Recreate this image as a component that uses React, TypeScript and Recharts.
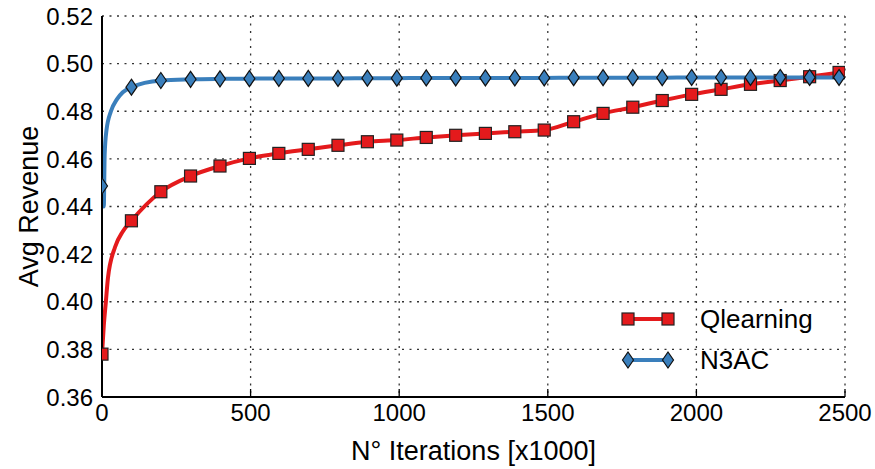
import { LineChart, Line, XAxis, YAxis, CartesianGrid } from 'recharts'

// iterations (x1000) where the markers sit
const markerIters = [
  0, 99, 198, 298, 397, 496, 595, 694, 794, 893, 992, 1091, 1190,
  1290, 1389, 1488, 1587, 1686, 1786, 1885, 1984, 2083, 2182, 2282, 2381, 2480,
]
const qlearningMarkers = [
  0.378, 0.434, 0.4462, 0.4528, 0.457, 0.4602, 0.4623, 0.464, 0.4657, 0.4672, 0.4679, 0.469, 0.4699,
  0.4707, 0.4714, 0.4721, 0.4756, 0.4791, 0.4817, 0.4845, 0.4871, 0.4892, 0.4913, 0.4929, 0.4945, 0.4963,
]
const n3acMarkers = [
  0.4486, 0.4901, 0.4929, 0.4934, 0.4936, 0.4937, 0.4938, 0.4938, 0.4938, 0.4939, 0.4939, 0.494, 0.494,
  0.494, 0.494, 0.494, 0.4941, 0.4941, 0.4941, 0.4941, 0.4942, 0.4942, 0.4942, 0.4942, 0.4942, 0.4942,
]

// extra curve points where the lines bend between markers
const qlearningExtraIters = [6, 13, 20, 44, 70, 2500]
const qlearningExtra = [0.39, 0.4, 0.41, 0.423, 0.4295, 0.4967]
const n3acExtraIters = [6, 9, 15, 30, 50, 70, 2500]
const n3acExtra = [0.44, 0.462, 0.472, 0.48, 0.485, 0.488, 0.4942]

const xTicks = [0, 500, 1000, 1500, 2000, 2500]
const yTicks = [0.36, 0.38, 0.4, 0.42, 0.44, 0.46, 0.48, 0.5, 0.52]

const RED = '#E41A1C'
const BLUE = '#3A7FBC'
const FONT = '"Liberation Sans", Arial, Helvetica, sans-serif'

const merge = (xs: number[], ys: number[], xs2: number[], ys2: number[]) =>
  [...xs.map((x, i) => ({ x, y: ys[i] })), ...xs2.map((x, i) => ({ x, y: ys2[i] }))].sort(
    (a, b) => a.x - b.x,
  )

const qCurve = merge(markerIters, qlearningMarkers, qlearningExtraIters, qlearningExtra)
const nCurve = merge(markerIters, n3acMarkers, n3acExtraIters, n3acExtra)
const qDots = markerIters.map((x, i) => ({ x, y: qlearningMarkers[i] }))
const nDots = markerIters.map((x, i) => ({ x, y: n3acMarkers[i] }))

const Square = (props: any) => {
  const { cx, cy } = props
  if (cx == null || cy == null) return null
  return <rect x={cx - 6} y={cy - 6} width={12} height={12} fill={RED} stroke="#222" strokeWidth={1.2} />
}

const Diamond = (props: any) => {
  const { cx, cy } = props
  if (cx == null || cy == null) return null
  return (
    <path
      d={`M${cx},${cy - 8} L${cx + 5.5},${cy} L${cx},${cy + 8} L${cx - 5.5},${cy} Z`}
      fill={BLUE}
      stroke="#111"
      strokeWidth={1.2}
    />
  )
}

const BottomTick = (props: any) => {
  const { x, y, payload } = props
  const axisY = y - 7
  return (
    <g>
      <line x1={x} x2={x} y1={axisY} y2={axisY - 8} stroke="#000" strokeWidth={1.3} />
      <text x={x} y={y} dy="0.71em" textAnchor="middle" fontSize={24} fontFamily={FONT} fill="#000">
        {payload.value}
      </text>
    </g>
  )
}

const TopTick = (props: any) => {
  const { x, y } = props
  return <line x1={x} x2={x} y1={y} y2={y + 8} stroke="#000" strokeWidth={1.3} />
}

const LeftTick = (props: any) => {
  const { x, y, payload } = props
  return (
    <text x={x} y={y} dy="0.36em" textAnchor="end" fontSize={24} fontFamily={FONT} fill="#000">
      {payload.value.toFixed(2)}
    </text>
  )
}

const legendItems = [
  { name: 'Qlearning', color: RED, marker: 'square' },
  { name: 'N3AC', color: BLUE, marker: 'diamond' },
]

const LegendBox = () => (
  <svg width={220} height={90} style={{ position: 'absolute', left: 620, top: 300 }}>
    {legendItems.map((item, i) => {
      const cy = 19 + i * 41
      return (
        <g key={item.name}>
          <line x1={8} x2={48} y1={cy} y2={cy} stroke={item.color} strokeWidth={4} />
          {item.marker === 'square' ? (
            <>
              <Square cx={8} cy={cy} />
              <Square cx={48} cy={cy} />
            </>
          ) : (
            <>
              <Diamond cx={8} cy={cy} />
              <Diamond cx={48} cy={cy} />
            </>
          )}
          <text x={80} y={cy} dy="0.36em" fontSize={26} fontFamily={FONT} fill="#000">
            {item.name}
          </text>
        </g>
      )
    })}
  </svg>
)

export default function App() {
  return (
    <div style={{ position: 'absolute', left: 0, top: 0, width: 875, height: 469, background: '#fff' }}>
      <LineChart width={875} height={469} margin={{ top: 16, right: 30, bottom: 0, left: 0 }}>
        <CartesianGrid
          stroke="#333"
          strokeDasharray="2 5.5"
          strokeWidth={1.3}
          horizontalValues={yTicks}
          verticalValues={xTicks}
        />
        <XAxis
          dataKey="x"
          type="number"
          domain={[0, 2500]}
          ticks={xTicks}
          allowDataOverflow
          axisLine={{ stroke: '#000', strokeWidth: 2 }}
          tickLine={false}
          tickSize={0}
          tickMargin={7}
          tick={<BottomTick />}
          height={72}
          label={{
            value: 'N° Iterations [x1000]',
            position: 'insideBottom',
            offset: 9,
            fontSize: 27,
            fontFamily: FONT,
            fill: '#000',
          }}
        />
        <XAxis
          xAxisId="top"
          orientation="top"
          dataKey="x"
          type="number"
          domain={[0, 2500]}
          ticks={xTicks}
          axisLine={{ stroke: '#000', strokeWidth: 2 }}
          tickLine={false}
          tickSize={0}
          tickMargin={0}
          tick={<TopTick />}
          height={0}
        />
        <YAxis
          type="number"
          domain={[0.36, 0.52]}
          ticks={yTicks}
          allowDataOverflow
          axisLine={{ stroke: '#000', strokeWidth: 2 }}
          tickLine={false}
          tickSize={0}
          tickMargin={9}
          tick={<LeftTick />}
          width={102}
          label={{
            value: 'Avg Revenue',
            angle: -90,
            position: 'insideLeft',
            offset: 0,
            dx: 28,
            style: { textAnchor: 'middle' },
            fontSize: 27,
            fontFamily: FONT,
            fill: '#000',
          }}
        />
        <YAxis
          yAxisId="right"
          orientation="right"
          type="number"
          domain={[0.36, 0.52]}
          axisLine={{ stroke: '#000', strokeWidth: 2 }}
          tick={false}
          tickLine={false}
          width={0}
        />
        <Line
          data={qCurve}
          dataKey="y"
          type="monotone"
          stroke={RED}
          strokeWidth={4}
          dot={false}
          activeDot={false}
          isAnimationActive={false}
        />
        <Line
          data={qDots}
          dataKey="y"
          stroke="none"
          dot={<Square />}
          activeDot={false}
          isAnimationActive={false}
        />
        <Line
          data={nCurve}
          dataKey="y"
          type="monotone"
          stroke={BLUE}
          strokeWidth={4}
          dot={false}
          activeDot={false}
          isAnimationActive={false}
        />
        <Line
          data={nDots}
          dataKey="y"
          stroke="none"
          dot={<Diamond />}
          activeDot={false}
          isAnimationActive={false}
        />
      </LineChart>
      <LegendBox />
    </div>
  )
}
